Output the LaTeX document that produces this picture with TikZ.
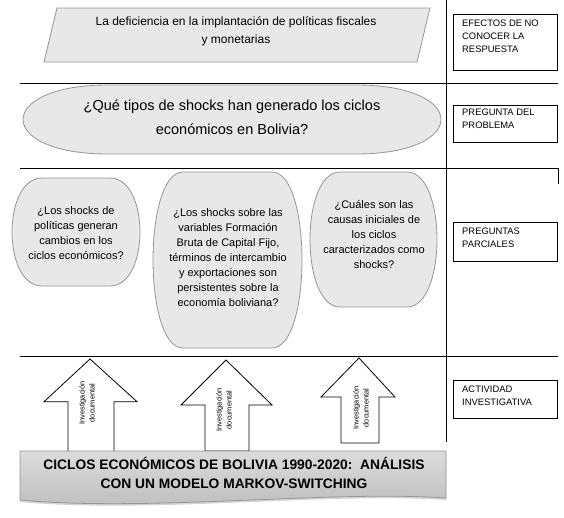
\documentclass[tikz,border=0pt]{standalone}
\usepackage{fontspec}
\setmainfont{Liberation Sans}
\usepackage{tikz}
\usetikzlibrary{shadows}
\definecolor{boxgray}{RGB}{232,232,232}
\definecolor{edgegray}{RGB}{150,150,150}
\definecolor{bannertop}{RGB}{220,220,220}
\definecolor{bannerbot}{RGB}{188,188,188}

\begin{document}
\begin{tikzpicture}[x=1pt, y=-1pt,
    greybox/.style={fill=boxgray, draw=edgegray, line width=0.8pt},
    sidebox/.style={draw=black, line width=0.8pt, fill=white},
    rule/.style={line width=1pt},
    blockarrow/.style={fill=white, draw=black, line width=0.8pt},
    sidetext/.style={anchor=north west, align=left, inner sep=0pt, font=\fontsize{9.4}{13}\selectfont},
    bubbletext/.style={align=center, font=\fontsize{11}{15}\selectfont},
    arrowtext/.style={rotate=90, align=center, font=\fontsize{7.4}{10}\selectfont}]
\useasboundingbox (0,0) rectangle (564,517);

% frame lines
\draw[rule] (446.7,0) -- (446.7,441.7);
\draw[rule] (20,83.3) -- (558,83.3);
\draw[rule] (20,168.3) -- (558,168.3);
\draw[rule] (20,356.7) -- (558,356.7);
\draw[rule] (558,168.3) -- (558,184);

% effects
\draw[greybox] (57,8) -- (430,8) -- (417,62) -- (44,62) -- cycle;
\node[align=center, font=\fontsize{12}{18}\selectfont] (deficiencia) at (236,31)
    {La deficiencia en la implantación de políticas fiscales\\y monetarias};

% problem question
\draw[greybox] (108,85) -- (356,85) .. controls (469.3,85) and (469.3,154) .. (356,154)
    -- (108,154) .. controls (-5.3,154) and (-5.3,85) .. (108,85) -- cycle;
\node[align=center, font=\fontsize{14.5}{24}\selectfont] (problema) at (232,117)
    {¿Qué tipos de shocks han generado los ciclos\\económicos en Bolivia?};

% partial questions
\draw[greybox] (42,178) -- (110,178) .. controls (150,178) and (150,286) .. (110,286)
    -- (42,286) .. controls (2,286) and (2,178) .. (42,178) -- cycle;
\draw[greybox] (183,172) -- (272,172) .. controls (312,172) and (312,348) .. (272,348)
    -- (183,348) .. controls (143,348) and (143,172) .. (183,172) -- cycle;
\draw[greybox] (340,172) -- (407,172) .. controls (447,172) and (447,307) .. (407,307)
    -- (340,307) .. controls (300,307) and (300,172) .. (340,172) -- cycle;
\node[bubbletext] (parcial1) at (76,233)
    {¿Los shocks de\\políticas generan\\cambios en los\\ciclos económicos?};
\node[bubbletext] (parcial2) at (228,258)
    {¿Los shocks sobre las\\variables Formación\\Bruta de Capital Fijo,\\términos de intercambio\\y exportaciones son\\persistentes sobre la\\economía boliviana?};
\node[bubbletext] (parcial3) at (374,234)
    {¿Cuáles son las\\causas iniciales de\\los ciclos\\caracterizados como\\shocks?};

% side labels
\draw[sidebox] (453,14) rectangle (557,70);
\node[sidetext] (efectoslbl) at (462,20) {EFECTOS DE NO\\CONOCER LA\\RESPUESTA};
\draw[sidebox] (453,105.7) rectangle (557,142.7);
\node[sidetext] (preguntalbl) at (462,109) {PREGUNTA DEL\\PROBLEMA};
\draw[sidebox] (453,222) rectangle (557,261);
\node[sidetext] (parcialeslbl) at (462,228) {PREGUNTAS\\PARCIALES};
\draw[sidebox] (453,380) rectangle (557,418);
\node[sidetext] (actividadlbl) at (462,386) {ACTIVIDAD\\INVESTIGATIVA};

% research arrows
\draw[blockarrow] (90,359) -- (137,401.7) -- (114,401.7) -- (114,453) -- (68,453)
    -- (68,401.7) -- (44,401.7) -- cycle;
\draw[blockarrow] (226,360) -- (272,405) -- (249,405) -- (249,451) -- (205,451)
    -- (205,405) -- (181,405) -- cycle;
\draw[blockarrow] (359,358) -- (395,397) -- (379,397) -- (379,443) -- (341,443)
    -- (341,397) -- (321,397) -- cycle;
\node[arrowtext] (inv1) at (87,403) {Investigación\\documental};
\node[arrowtext] (inv2) at (224,410) {Investigación\\documental};
\node[arrowtext] (inv3) at (361,408) {Investigación\\documental};

% title banner
\draw[top color=bannertop, bottom color=bannerbot, draw=edgegray, line width=0.8pt,
    drop shadow={shadow xshift=0pt, shadow yshift=-2pt, opacity=0.35}]
    (20,451) -- (446,451) -- (446,498) .. controls (330,490) and (150,512) .. (20,500) -- cycle;
\node[align=center, font=\bfseries\fontsize{13.8}{19}\selectfont] (titulo) at (234,473)
    {CICLOS ECONÓMICOS DE BOLIVIA 1990-2020:\ \ ANÁLISIS\\CON UN MODELO MARKOV-SWITCHING};
\end{tikzpicture}
\end{document}
